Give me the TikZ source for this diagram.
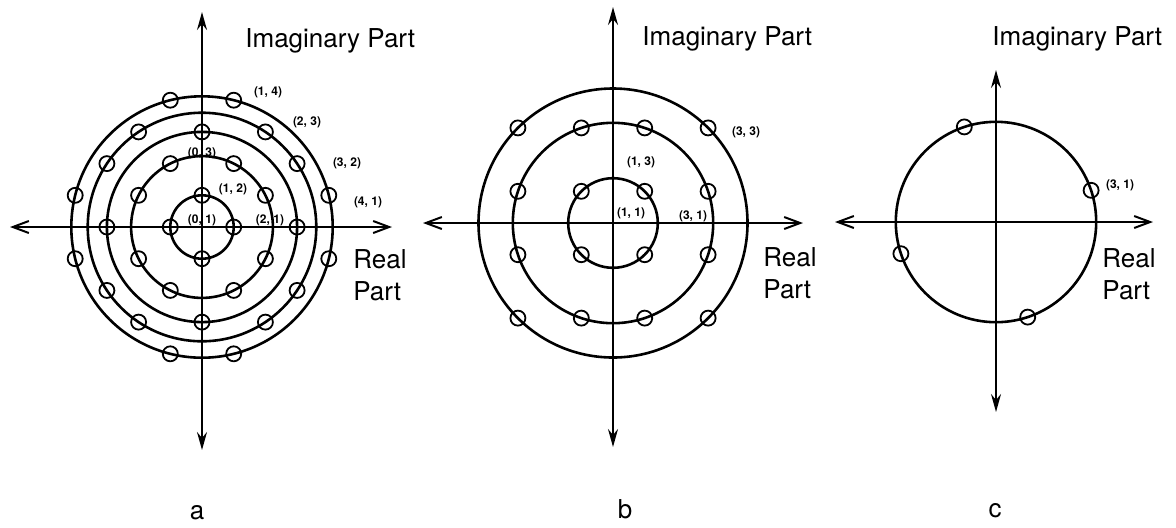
\documentclass[tikz,border=0pt]{standalone}
\usepackage{fontspec}
\setmainfont{TeX Gyre Heros}
\usetikzlibrary{arrows.meta}

\begin{document}
\begin{tikzpicture}[
    x=0.5pt, y=-0.5pt,
    ring/.style={line width=1.3pt},
    marker/.style={draw, circle, line width=0.9pt, minimum size=7.5pt, inner sep=0pt},
    haxis/.style={{Straight Barb[length=8pt,width=6pt]}-{Straight Barb[length=8pt,width=6pt]}, line width=1pt},
    vaxis/.style={{Stealth[length=9pt,width=5pt,inset=3pt]}-{Stealth[length=9pt,width=5pt,inset=3pt]}, line width=1pt},
    pair/.style={font=\fontsize{6}{7}\selectfont\bfseries, inner sep=0pt},
    axlabel/.style={font=\fontsize{13}{16}\selectfont, anchor=base west, align=left, inner sep=0pt},
    panel/.style={font=\fontsize{13}{16}\selectfont, anchor=base, inner sep=0pt},
]
    \useasboundingbox (0,0) rectangle (1176,527);

    % Centres of the three planes
    \coordinate (ca) at (202,227);
    \coordinate (cb) at (613,223);
    \coordinate (cc) at (996,222);

    % Axis ends
    \coordinate (aW) at (10,227);   \coordinate (aE) at (392,227);
    \coordinate (aN) at (202,12);   \coordinate (aS) at (202,450);
    \coordinate (bW) at (423,223);  \coordinate (bE) at (803,223);
    \coordinate (bN) at (613,7);    \coordinate (bS) at (613,447);
    \coordinate (cW) at (835,222);  \coordinate (cE) at (1153,222);
    \coordinate (cN) at (996,70);   \coordinate (cS) at (996,412);

    % Rings (a)
    \draw[ring] (ca) circle [radius=31.7];
    \draw[ring] (ca) circle [radius=70.9];
    \draw[ring] (ca) circle [radius=95.1];
    \draw[ring] (ca) circle [radius=114.3];
    \draw[ring] (ca) circle [radius=130.7];

    % Rings (b)
    \draw[ring] (cb) circle [radius=44.8];
    \draw[ring] (cb) circle [radius=100.2];
    \draw[ring] (cb) circle [radius=134.5];

    % Ring (c)
    \draw[ring] (cc) circle [radius=100.2];

    % Signal points
    \begin{scope}[shift={(ca)}, x=15.85pt, y=15.85pt]
        \foreach \px/\py [count=\k] in {1/0, 0/1, -1/0, 0/-1,
            2/1, 1/2, -1/2, -2/1, -2/-1, -1/-2, 1/-2, 2/-1,
            3/0, 0/3, -3/0, 0/-3,
            3/2, 2/3, -2/3, -3/2, -3/-2, -2/-3, 2/-3, 3/-2,
            4/1, 1/4, -1/4, -4/1, -4/-1, -1/-4, 1/-4, 4/-1}
            \node[marker] (ma\k) at (\px,\py) {};
    \end{scope}
    \begin{scope}[shift={(cb)}, x=15.85pt, y=15.85pt]
        \foreach \px/\py [count=\k] in {1/1, -1/1, -1/-1, 1/-1,
            3/1, 1/3, -1/3, -3/1, -3/-1, -1/-3, 1/-3, 3/-1,
            3/3, -3/3, -3/-3, 3/-3}
            \node[marker] (mb\k) at (\px,\py) {};
    \end{scope}
    \begin{scope}[shift={(cc)}, x=15.85pt, y=15.85pt]
        \foreach \px/\py [count=\k] in {3/1, -1/3, -3/-1, 1/-3}
            \node[marker] (mc\k) at (\px,\py) {};
    \end{scope}

    % Point labels
    \node[pair] (la14) at (268,92) {(1, 4)};
    \node[pair] (la23) at (307,122) {(2, 3)};
    \node[pair] (la32) at (347,163) {(3, 2)};
    \node[pair] (la41) at (368,202) {(4, 1)};
    \node[pair] (la03) at (202,153) {(0, 3)};
    \node[pair] (la12) at (233,189) {(1, 2)};
    \node[pair] (la01) at (202,220) {(0, 1)};
    \node[pair] (la21) at (270,220) {(2, 1)};

    \node[pair] (lb33) at (746,132) {(3, 3)};
    \node[pair] (lb13) at (641,162) {(1, 3)};
    \node[pair] (lb11) at (631,213) {(1, 1)};
    \node[pair] (lb31) at (693,216) {(3, 1)};

    \node[pair] (lc31) at (1120,185) {(3, 1)};

    % Axes
    \draw[haxis] (aW) -- (aE);
    \draw[vaxis] (aS) -- (aN);
    \draw[haxis] (bW) -- (bE);
    \draw[vaxis] (bS) -- (bN);
    \draw[haxis] (cW) -- (cE);
    \draw[vaxis] (cS) -- (cN);

    % Axis names
    \node[axlabel] (ima) at (245,47) {Imaginary Part};
    \node[axlabel] (rea) at (353,300) {Real\\Part};
    \node[axlabel] (imb) at (642,45) {Imaginary Part};
    \node[axlabel] (reb) at (763,298) {Real\\Part};
    \node[axlabel] (imc) at (992,45) {Imaginary Part};
    \node[axlabel] (rec) at (1102,299) {Real\\Part};

    % Panel letters
    \node[panel] (pa) at (197,519) {a};
    \node[panel] (pb) at (625,518) {b};
    \node[panel] (pc) at (995,517) {c};

\end{tikzpicture}
\end{document}
